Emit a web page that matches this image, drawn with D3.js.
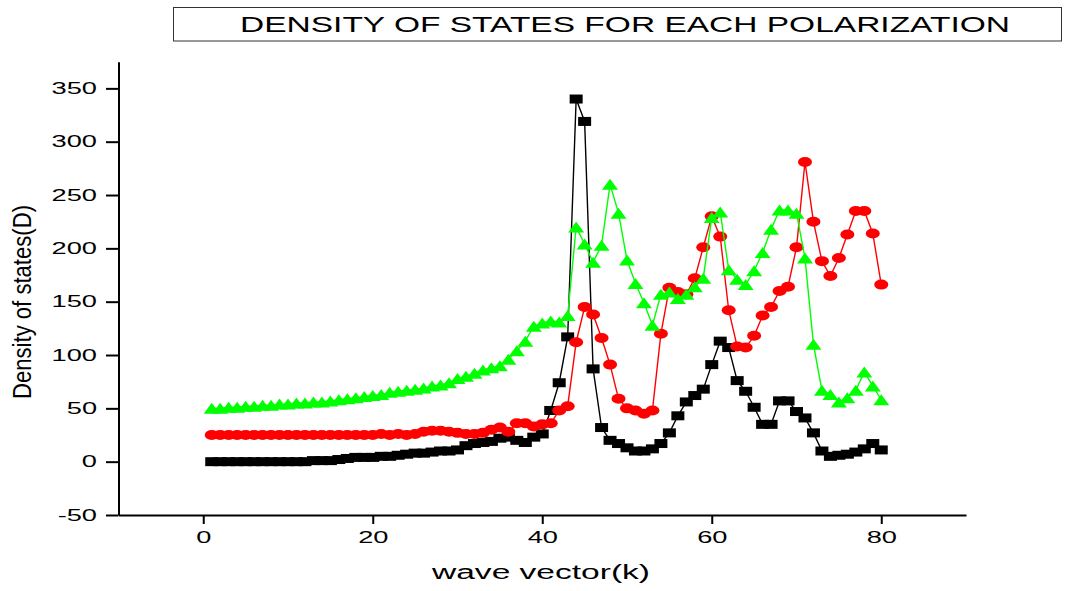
<!DOCTYPE html>
<html>
<head>
<meta charset="utf-8">
<script src="https://cdn.jsdelivr.net/npm/d3@7"></script>
<style>
  html, body { margin: 0; padding: 0; background: #fff; }
  svg { display: block; font-family: "Liberation Sans", Arial, sans-serif; }
</style>
</head>
<body>
<svg id="chart" width="1065" height="591"></svg>
<script>
// wave vector k = 1..80
const kValues = d3.range(1, 81);

// density of states per polarization
const seriesBlack = [0,0,0,0,0,0,0,0,0,0,0,0,1,1,1,2,3,4,4,4,
  5,5,6,7,8,8,9,10,10,11,15,17,18,19,22,23,20,18,23,26,
  48,74,117,340,319,87,32,20,17,13,10,10,12,17,27,43,56,62,68,91,
  113,107,76,66,51,35,35,57,57,47,41,27,10,5,6,7,9,12,17,11];

const seriesRed = [25,25,25,25,25,25,25,25,25,25,25,25,25,25,25,25,25,25,25,25,
  26,25,26,25,26,28,29,29,28,27,26,26,27,30,32,28,36,36,33,35,
  36,48,52,112,145,138,116,91,59,50,48,45,48,120,163,159,157,172,201,230,
  211,142,108,107,118,137,145,160,164,201,281,225,188,174,191,213,235,235,214,166];

const seriesGreen = [50,50,51,51,52,52,53,53,54,54,55,55,56,56,57,58,59,60,61,62,
  63,65,66,67,68,69,71,72,74,78,80,83,86,88,90,96,104,113,127,130,
  132,131,137,220,204,187,203,260,233,189,167,149,128,157,159,153,157,164,172,229,
  234,180,171,166,179,196,218,236,236,233,191,110,67,63,56,60,67,84,71,58];

// axis ticks
const xMajorTicks = [0, 20, 40, 60, 80];
const xMinorTicks = [-10, 10, 30, 50, 70, 90];
const yMajorTicks = [-50, 0, 50, 100, 150, 200, 250, 300, 350];
const yMinorTicks = [-25, 25, 75, 125, 175, 225, 275, 325, 375];

const titleText = "DENSITY OF STATES FOR EACH POLARIZATION";
const xTitle = "wave vector(k)";
const yTitle = "Density of states(D)";

const svg = d3.select("#chart");

const x = d3.scaleLinear().domain([-10, 90]).range([118.5, 966]);
const y = d3.scaleLinear().domain([-50, 375]).range([515, 61.7]);

// wide glyphs: stretch each label horizontally
function widen(sel, factor) {
  sel.each(function () {
    const w = this.getComputedTextLength();
    d3.select(this).attr("textLength", w * factor).attr("lengthAdjust", "spacingAndGlyphs");
  });
}

// title box
svg.append("rect")
  .attr("x", 173.5).attr("y", 7.5).attr("width", 888).attr("height", 33.5)
  .attr("fill", "none").attr("stroke", "#333").attr("stroke-width", 1);
svg.append("text")
  .attr("x", 625).attr("y", 32).attr("text-anchor", "middle")
  .attr("font-size", 22).attr("fill", "#000")
  .attr("textLength", 770).attr("lengthAdjust", "spacingAndGlyphs")
  .text(titleText);

// axes
const plainInt = d => String(d);
const xAxisG = svg.append("g").attr("transform", `translate(0,${y(-50)})`);
xAxisG.call(d3.axisBottom(x).tickValues(xMinorTicks).tickSize(5.5).tickSizeOuter(0).tickFormat(""));
xAxisG.call(d3.axisBottom(x).tickValues(xMajorTicks).tickSize(9).tickSizeOuter(0).tickFormat(plainInt).tickPadding(8));

const yAxisG = svg.append("g").attr("transform", `translate(${x(-10)},0)`);
yAxisG.call(d3.axisLeft(y).tickValues(yMinorTicks).tickSize(7.5).tickSizeOuter(0).tickFormat(""));
yAxisG.call(d3.axisLeft(y).tickValues(yMajorTicks).tickSize(12.5).tickSizeOuter(0).tickFormat(plainInt).tickPadding(9));

svg.selectAll(".domain, .tick line").attr("stroke", "#000").attr("stroke-width", 2);
svg.selectAll(".tick text")
  .attr("font-family", "'Liberation Sans', Arial, sans-serif")
  .attr("font-size", 16).attr("fill", "#000");
xAxisG.selectAll(".tick text").attr("dy", "0.71em");
widen(svg.selectAll(".tick text"), 1.7);

// axis titles
svg.append("text")
  .attr("x", 541).attr("y", 579).attr("text-anchor", "middle")
  .attr("font-size", 20).attr("fill", "#000")
  .attr("textLength", 218).attr("lengthAdjust", "spacingAndGlyphs")
  .text(xTitle);

svg.append("text")
  .attr("transform", "translate(31,302) rotate(-90) scale(1,1.15)")
  .attr("text-anchor", "middle")
  .attr("font-size", 22).attr("fill", "#000")
  .attr("textLength", 194).attr("lengthAdjust", "spacingAndGlyphs")
  .text(yTitle);

// series
const line = d3.line().x(d => x(d.k)).y(d => y(d.v));
const toPoints = vals => kValues.map((k, i) => ({ k, v: vals[i] }));

function drawSeries(vals, color, marker) {
  const pts = toPoints(vals);
  const g = svg.append("g");
  g.append("path").datum(pts).attr("d", line)
    .attr("fill", "none").attr("stroke", color).attr("stroke-width", 1.4);
  if (marker === "square") {
    g.selectAll("rect").data(pts).join("rect")
      .attr("x", d => x(d.k) - 6.5).attr("y", d => y(d.v) - 4.5)
      .attr("width", 13).attr("height", 9).attr("fill", color);
  } else if (marker === "circle") {
    g.selectAll("ellipse").data(pts).join("ellipse")
      .attr("cx", d => x(d.k)).attr("cy", d => y(d.v))
      .attr("rx", 7).attr("ry", 5).attr("fill", color);
  } else {
    g.selectAll("path.m").data(pts).join("path").attr("class", "m")
      .attr("d", d => {
        const cx = x(d.k), cy = y(d.v);
        return `M${cx},${cy - 5.5}L${cx + 8},${cy + 5.5}L${cx - 8},${cy + 5.5}Z`;
      })
      .attr("fill", color);
  }
}

drawSeries(seriesBlack, "#000000", "square");
drawSeries(seriesRed, "#ff0000", "circle");
drawSeries(seriesGreen, "#00ff00", "triangle");
</script>
</body>
</html>
